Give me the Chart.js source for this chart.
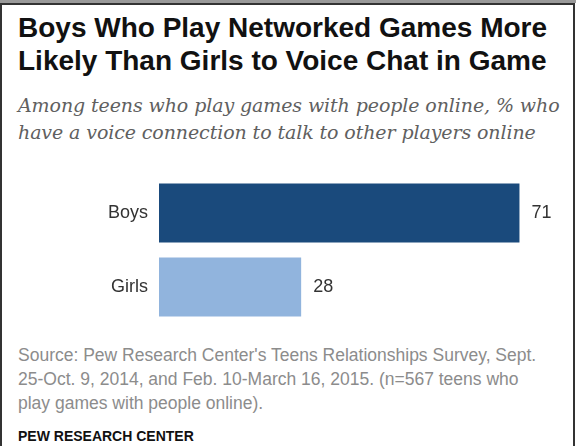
<!DOCTYPE html>
<html>
<head>
<meta charset="utf-8">
<script src="https://cdn.jsdelivr.net/npm/chart.js@4/dist/chart.umd.min.js"></script>
<style>
  html, body { margin: 0; padding: 0; background: #fff; }
  #page { position: relative; width: 576px; height: 446px; overflow: hidden; background: #fff; }
  #topband { position: absolute; left: 0; top: 0; width: 576px; height: 3px; background: #9a9a9a; }
  #frame { position: absolute; left: 0; top: 3px; width: 571px; height: 460px;
           border-top: 2px solid #333; border-left: 2px solid #333; border-right: 2px solid #333; }
  .txt { position: absolute; left: 18px; white-space: nowrap; }
  #title { top: 11px; font: bold 28px/33px "Liberation Sans", Arial, sans-serif; color: #111; }
  #subtitle { top: 92px; font: italic 19px/27px "DejaVu Serif", serif; color: #606060; letter-spacing: -0.1px; }
  #source { top: 343px; font: 17.5px/24px "Liberation Sans", Arial, sans-serif; color: #8c8c8c; }
  #credit { top: 428px; font: bold 14px/16px "Liberation Sans", Arial, sans-serif; color: #111; }
  #chartBox { position: absolute; left: 0; top: 170px; width: 576px; height: 160px; }
</style>
</head>
<body>
<div id="page">
  <div id="topband"></div>
  <div id="frame"></div>
  <div id="title" class="txt">Boys Who Play Networked Games More<br>Likely Than Girls to Voice Chat in Game</div>
  <div id="subtitle" class="txt">Among teens who play games with people online, % who<br>have a voice connection to talk to other players online</div>
  <div id="chartBox"><canvas id="voiceChart" width="576" height="160"></canvas></div>
  <div id="source" class="txt">Source: Pew Research Center's Teens Relationships Survey, Sept.<br>25-Oct. 9, 2014, and Feb. 10-March 16, 2015. (n=567 teens who<br>play games with people online).</div>
  <div id="credit" class="txt">PEW RESEARCH CENTER</div>
</div>

<script>
// categories and % who voice chat
const groups = ["Boys", "Girls"];
const voiceChatPct = [71, 28];
const groupColors = ["#1a4a7c", "#91b4dd"];

// prints the value just past the end of each bar
const valueLabels = {
    id: "valueLabels",
    afterDatasetsDraw(chart) {
        const ctx = chart.ctx;
        const meta = chart.getDatasetMeta(0);
        ctx.save();
        ctx.font = "18px 'Liberation Sans', Arial, sans-serif";
        ctx.fillStyle = "#333";
        ctx.textAlign = "left";
        ctx.textBaseline = "middle";
        meta.data.forEach((bar, i) => {
            ctx.fillText(chart.data.datasets[0].data[i], bar.x + 12, bar.y);
        });
        ctx.restore();
    }
};

const voiceChart = new Chart(document.getElementById("voiceChart"), {
    type: "bar",
    data: {
        labels: groups,
        datasets: [{
            data: voiceChatPct,
            backgroundColor: groupColors,
            barPercentage: 0.8,
            categoryPercentage: 1
        }]
    },
    options: {
        indexAxis: "y",
        responsive: false,
        animation: false,
        layout: { padding: { top: 6, bottom: 6, right: 21, left: 0 } },
        plugins: {
            legend: { display: false },
            tooltip: { enabled: false }
        },
        scales: {
            x: { display: false, min: 0, max: 78 },
            y: {
                grid: { display: false, drawTicks: false },
                border: { display: false },
                ticks: {
                    padding: 11,
                    color: "#333",
                    font: { family: "'Liberation Sans', Arial, sans-serif", size: 18 }
                },
                afterFit(axis) {
                    // fixed label column, no extra room above/below the bars
                    axis.width = 159;
                    axis.paddingTop = 0;
                    axis.paddingBottom = 0;
                }
            }
        }
    },
    plugins: [valueLabels]
});
</script>
</body>
</html>
